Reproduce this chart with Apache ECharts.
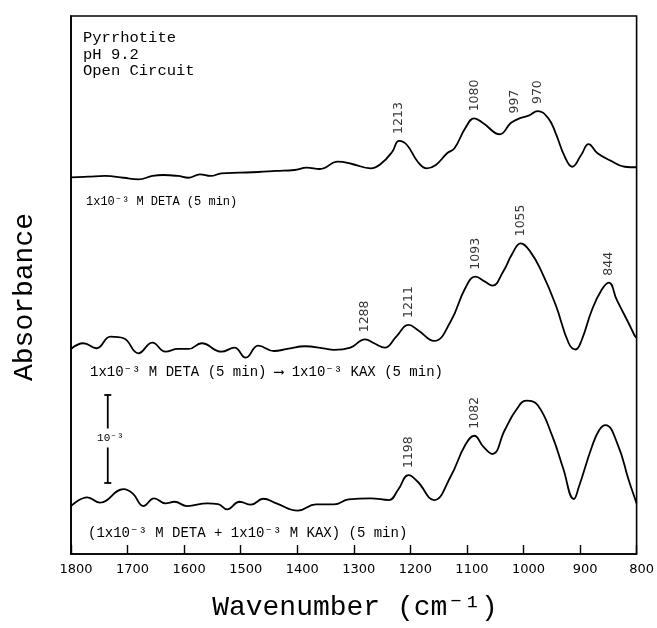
<!DOCTYPE html>
<html>
<head>
<meta charset="utf-8">
<title>Pyrrhotite FTIR spectra</title>
<script src="https://cdn.jsdelivr.net/npm/echarts@6/dist/echarts.min.js"></script>
<style>
  html, body { margin: 0; padding: 0; background: #fff; }
  #chart { width: 657px; height: 628px; }
</style>
</head>
<body>
<div id="chart"></div>
<script>
// Wavenumber axis (cm^-1), drawn high to low
const wnMin = 800;
const wnMax = 1800;
const wnStep = 100;

// Absorbance traces, in units of 1e-3, relative to each trace's start at 1800 cm^-1
// Trace 1: 1x10^-3 M DETA (5 min)
const wn1 = [1800,1770,1740,1707,1681,1656,1637,1611,1592,1572,1553,1534,1502,1469,1437,1405,1383,1360,1328,1303,1270,1251,1232,1220,1206,1187,1171,1155,1135,1122,1103,1087,1071,1042,1023,1015,1007,991,975,956,943,927,914,898,885,869,846,821,800];
const abs1 = [0,0.007,0.015,-0.005,-0.023,0.015,0.026,0.015,-0.005,0.034,0.015,0.045,0.052,0.060,0.072,0.083,0.109,0.094,0.177,0.151,0.102,0.159,0.291,0.413,0.367,0.177,0.102,0.140,0.273,0.330,0.557,0.670,0.614,0.489,0.614,0.645,0.670,0.700,0.753,0.670,0.500,0.234,0.120,0.253,0.378,0.273,0.189,0.120,0.114];

// Trace 2: DETA (5 min) followed by KAX (5 min)
const wn2 = [1800,1778,1755,1730,1707,1681,1656,1633,1611,1592,1569,1534,1511,1491,1469,1441,1418,1386,1354,1335,1306,1280,1264,1245,1225,1203,1187,1158,1129,1103,1085,1068,1055,1036,1020,1005,988,968,943,920,908,897,879,862,849,835,814,804,800];
const abs2 = [0,0.065,0.008,0.140,0.122,-0.049,0.072,-0.031,0,0,0.065,-0.031,0.015,-0.099,0.038,-0.023,0,0.031,0.008,-0.011,0.015,0.110,0.065,0.015,0.140,0.273,0.216,0.091,0.310,0.690,0.822,0.765,0.719,0.878,1.080,1.201,1.106,0.878,0.500,0.065,-0.006,0.102,0.443,0.670,0.753,0.557,0.292,0.159,0.125];

// Trace 3: DETA + KAX together (5 min)
const wn3 = [1800,1771,1749,1707,1691,1672,1653,1633,1617,1595,1559,1540,1524,1502,1482,1460,1437,1399,1367,1335,1309,1270,1238,1222,1203,1187,1158,1129,1103,1087,1071,1055,1033,1013,995,975,949,930,911,902,879,866,855,833,814,801,800];
const abs3 = [0,0.099,0.038,0.193,0.144,0,0.088,0.031,0.049,0,0.031,0.023,-0.038,0.049,0.015,0.083,0.031,-0.053,0.019,0.019,0.076,0.088,0.068,0.182,0.352,0.276,0.068,0.333,0.693,0.799,0.674,0.591,0.864,1.091,1.197,1.148,0.795,0.432,0.080,0.219,0.674,0.864,0.920,0.693,0.295,0.049,0.030];

// Vertical stacking of the three traces (1e-3 absorbance units)
const traceOffset = [4.281, 2.330, 0.545];
const yMax = 6.114;

// Band annotations: printed text and the trace point it sits over
const bands1 = [["1213", 1220], ["1080", 1087], ["997", 1015], ["970", 975]];
const bands2 = [["1288", 1280], ["1211", 1203], ["1093", 1085], ["1055", 1005], ["844", 849]];
const bands3 = [["1198", 1203], ["1082", 1087]];

// 1e-3 absorbance scale bar: position on the wavenumber axis, lower end, length
const scaleBar = [1735, 0.807, 1];

const traceNames = [
  "1x10\u207B\u00B3 M DETA (5 min)",
  "1x10\u207B\u00B3 M DETA (5 min) \u27F6 1x10\u207B\u00B3 KAX (5 min)",
  "(1x10\u207B\u00B3 M DETA + 1x10\u207B\u00B3 M KAX) (5 min)"
];

const MONO = "'Liberation Mono', 'DejaVu Sans Mono', monospace";
const SANS = "'DejaVu Sans', 'Liberation Sans', sans-serif";

function traceData(wn, ab, off) {
  return wn.map((w, i) => [w, ab[i] + off]);
}
function valueAt(wn, ab, w) {
  let best = 0;
  for (let i = 1; i < wn.length; i++) {
    if (Math.abs(wn[i] - w) < Math.abs(wn[best] - w)) best = i;
  }
  return ab[best];
}
function bandData(bands, wn, ab, off) {
  return bands.map(b => ({ name: b[0], value: [b[1], valueAt(wn, ab, b[1]) + off] }));
}

const lineStyle = { color: '#000', width: 1.8 };
function traceSeries(wn, ab, off) {
  return {
    type: 'line', data: traceData(wn, ab, off), smooth: 0.45, showSymbol: false,
    lineStyle: lineStyle, silent: true, animation: false, z: 3
  };
}
function bandSeries(bands, wn, ab, off) {
  return {
    type: 'scatter', symbolSize: 0, silent: true, animation: false,
    data: bandData(bands, wn, ab, off),
    label: {
      show: true, position: 'top', distance: 7, rotate: 90,
      align: 'left', verticalAlign: 'middle',
      formatter: p => p.name, fontFamily: SANS, fontSize: 12.5, color: '#000'
    }
  };
}

const chart = echarts.init(document.getElementById('chart'), null, { renderer: 'canvas' });

const option = {
  backgroundColor: '#fff',
  animation: false,
  grid: { left: 71, right: 19, top: 16, bottom: 74, show: true, borderColor: '#000', borderWidth: 1.6 },
  xAxis: {
    type: 'value', min: wnMin, max: wnMax, interval: wnStep, inverse: true,
    axisLine: { show: true, lineStyle: { color: '#000', width: 1.6 } },
    axisTick: { show: true, inside: true, length: 9, lineStyle: { color: '#000', width: 1.4 } },
    axisLabel: { show: true, margin: 9, color: '#000', fontFamily: SANS, fontSize: 13,
                 padding: [0, 0, 0, 10], formatter: v => String(v) },
    splitLine: { show: false }
  },
  yAxis: {
    type: 'value', min: 0, max: yMax,
    axisLine: { show: true, lineStyle: { color: '#000', width: 1.6 } },
    axisTick: { show: false }, axisLabel: { show: false }, splitLine: { show: false }
  },
  graphic: [
    { type: 'text', left: 83, top: 30, silent: true,
      style: { text: 'Pyrrhotite\npH 9.2\nOpen Circuit', font: "15.5px " + MONO, lineHeight: 16.5, fill: '#000' } },
    { type: 'text', x: 86, y: 202, silent: true,
      style: { text: traceNames[0], font: "12px " + MONO, fill: '#000', verticalAlign: 'middle' } },
    { type: 'text', x: 90, y: 372, silent: true,
      style: { text: traceNames[1], font: "14px " + MONO, fill: '#000', verticalAlign: 'middle' } },
    { type: 'text', x: 88, y: 533, silent: true,
      style: { text: traceNames[2], font: "14px " + MONO, fill: '#000', verticalAlign: 'middle' } },
    { type: 'text', x: 355, y: 608, silent: true,
      style: { text: 'Wavenumber (cm\u207B\u00B9)', font: "28px " + MONO, fill: '#000', align: 'center', verticalAlign: 'middle' } },
    { type: 'text', x: 25, y: 297, rotation: Math.PI / 2, silent: true,
      style: { text: 'Absorbance', font: "28px " + MONO, fill: '#000', align: 'center', verticalAlign: 'middle' } }
  ],
  series: [
    traceSeries(wn1, abs1, traceOffset[0]),
    traceSeries(wn2, abs2, traceOffset[1]),
    traceSeries(wn3, abs3, traceOffset[2]),
    bandSeries(bands1, wn1, abs1, traceOffset[0]),
    bandSeries(bands2, wn2, abs2, traceOffset[1]),
    bandSeries(bands3, wn3, abs3, traceOffset[2]),
    {
      // 1e-3 absorbance scale bar with end caps and its label
      type: 'custom', silent: true, animation: false, z: 5,
      data: [scaleBar],
      renderItem: function (params, api) {
        const lo = api.coord([api.value(0), api.value(1)]);
        const hi = api.coord([api.value(0), api.value(1) + api.value(2)]);
        const cap = 3.5;
        const st = { stroke: '#000', lineWidth: 1.8 };
        const mid = (lo[1] + hi[1]) / 2;
        return {
          type: 'group',
          children: [
            { type: 'line', shape: { x1: lo[0], y1: lo[1], x2: hi[0], y2: hi[1] }, style: st },
            { type: 'line', shape: { x1: lo[0] - cap, y1: lo[1], x2: lo[0] + cap, y2: lo[1] }, style: st },
            { type: 'line', shape: { x1: hi[0] - cap, y1: hi[1], x2: hi[0] + cap, y2: hi[1] }, style: st },
            { type: 'text', x: lo[0] + 2.5, y: mid - 1,
              style: { text: '10\u207B\u00B3', font: "11px " + MONO, fill: '#000', align: 'center', verticalAlign: 'middle',
                       backgroundColor: '#fff', padding: [4, 1, 4, 1] } }
          ]
        };
      }
    }
  ]
};

chart.setOption(option);
</script>
</body>
</html>
